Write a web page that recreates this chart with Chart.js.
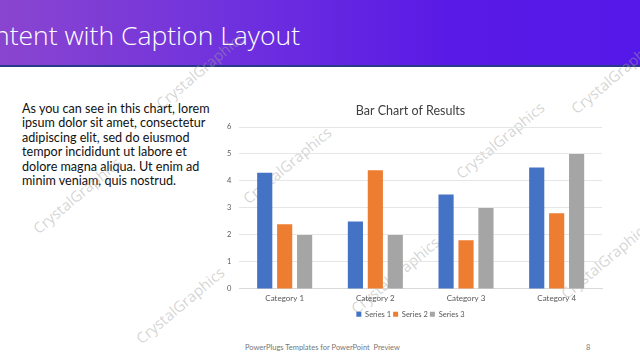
<!DOCTYPE html>
<html>
<head>
<meta charset="utf-8">
<script src="https://cdn.jsdelivr.net/npm/chart.js@4"></script>
<style>
    body { margin: 0; width: 640px; height: 360px; overflow: hidden; background: #fff; font-family: Lato, "Open Sans", sans-serif; position: relative; }
    #header { position: absolute; left: 0; top: 0; width: 640px; height: 65px; background: linear-gradient(90deg, #8a45cf 0%, #7032dd 35%, #5a1ae6 70%, #5418e8 100%); border-bottom: 2px solid #2a3a8a; }
    #header h1 { position: absolute; left: -38px; top: 17px; margin: 0; font-weight: 300; font-size: 26.5px; color: #fff; white-space: nowrap; font-family: "Open Sans", sans-serif; }
    #caption { position: absolute; left: 22px; top: 102px; font-size: 12.6px; line-height: 14.4px; color: #111; white-space: nowrap; }
    #footer { position: absolute; left: 245px; top: 343px; font-size: 7.5px; color: #777; }
    #pageNum { position: absolute; left: 586px; top: 343px; font-size: 7.5px; color: #777; }
    .wm { position: absolute; color: rgba(160, 160, 160, 0.45); font-size: 15px; font-family: "Open Sans", sans-serif; transform: rotate(-40deg); white-space: nowrap; }
    #chartBox { position: absolute; left: 219px; top: 101px; width: 393px; height: 227px; }
</style>
</head>
<body>
<div id="header"><h1>Content with Caption Layout</h1></div>
<div id="caption">As you can see in this chart, lorem<br>ipsum dolor sit amet, consectetur<br>adipiscing elit, sed do eiusmod<br>tempor incididunt ut labore et<br>dolore magna aliqua. Ut enim ad<br>minim veniam, quis nostrud.</div>
<div class="wm" style="left: 22px; top: 185px;">CrystalGraphics</div>
<div class="wm" style="left: 232px; top: 155px;">CrystalGraphics</div>
<div class="wm" style="left: 445px; top: 130px;">CrystalGraphics</div>
<div class="wm" style="left: 145px; top: 60px;">CrystalGraphics</div>
<div class="wm" style="left: 340px; top: 265px;">CrystalGraphics</div>
<div class="wm" style="left: 550px; top: 250px;">CrystalGraphics</div>
<div class="wm" style="left: 560px; top: 65px;">CrystalGraphics</div>
<div class="wm" style="left: 125px; top: 295px;">CrystalGraphics</div>
<div id="chartBox"><canvas id="resultsChart"></canvas></div>
<div id="footer">PowerPlugs Templates for PowerPoint&nbsp; Preview</div>
<div id="pageNum">8</div>
<script>
let categories = ['Category 1', 'Category 2', 'Category 3', 'Category 4'];
let series1 = [4.3, 2.5, 3.5, 4.5];
let series2 = [2.4, 4.4, 1.8, 2.8];
let series3 = [2, 2, 3, 5];
let seriesNames = ['Series 1', 'Series 2', 'Series 3'];
let seriesColors = ['#4472c4', '#ed7d31', '#a5a5a5'];

document.addEventListener("DOMContentLoaded", () => {
    buildResultsChart();
});

function buildResultsChart() {
    let ctx = document.getElementById('resultsChart');
    let values = [series1, series2, series3];

    let datasets = values.map((data, i) => {
        return ({
            label: seriesNames[i],
            backgroundColor: seriesColors[i],
            borderWidth: 0,
            data: data,
            categoryPercentage: 0.66,
            barPercentage: 0.76,
        })
    });

    new Chart(ctx, {
        type: "bar",
        data: {
            labels: categories,
            datasets: datasets,
        },
        options: {
            maintainAspectRatio: false,
            responsive: true,
            animation: false,
            layout: { padding: { left: 0, right: 10, top: 0, bottom: 0 } },
            plugins: {
                title: {
                    display: true,
                    text: 'Bar Chart of Results',
                    color: '#404040',
                    font: { family: 'Lato', size: 12.5, weight: 'normal' },
                    padding: { top: 2, bottom: 9 },
                },
                legend: {
                    position: 'bottom',
                    labels: {
                        boxWidth: 5,
                        boxHeight: 5,
                        padding: 2,
                        color: '#595959',
                        font: { family: 'Lato', size: 7.5 },
                    },
                },
                tooltip: { enabled: false },
            },
            scales: {
                x: {
                    grid: { display: false, drawTicks: false },
                    border: { color: '#d9d9d9' },
                    ticks: { color: '#595959', padding: 5, font: { family: 'Lato', size: 8 } },
                },
                y: {
                    min: 0,
                    max: 6,
                    ticks: { stepSize: 1, color: '#595959', font: { family: 'Lato', size: 7.5 }, padding: 8 },
                    grid: { color: '#e6e6e6', drawTicks: false },
                    border: { display: false },
                },
            },
        },
    });
}
</script>
</body>
</html>
